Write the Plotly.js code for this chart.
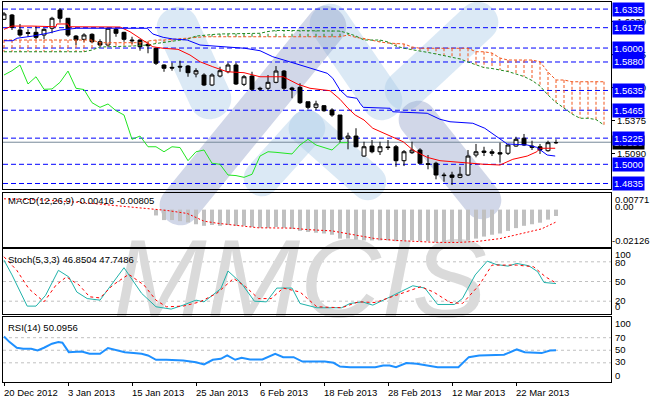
<!DOCTYPE html>
<html>
<head>
<meta charset="utf-8">
<script src="https://cdn.plot.ly/plotly-3.0.1.min.js"></script>
<style>
html,body{margin:0;padding:0;background:#ffffff;}
#chart{width:650px;height:400px;}
</style>
</head>
<body>
<div id="chart"></div>
<script>
// ---------------- data ----------------
const dateLabels = ['20 Dec 2012','3 Jan 2013','15 Jan 2013','25 Jan 2013','6 Feb 2013','18 Feb 2013','28 Feb 2013','12 Mar 2013','22 Mar 2013'];
const dateBars = [0, 8, 16, 24, 32, 40, 48, 56, 64];

const openP = [1.6247,1.6284,1.6155,1.6132,1.6135,1.6112,1.6170,1.6327,1.6256,1.6103,
1.6075,1.6118,1.6054,1.6026,1.6161,1.6135,1.6069,1.6069,1.6032,1.5998,
1.5854,1.5834,1.5843,1.5845,1.5777,1.5768,1.5682,1.5759,1.5796,1.5854,
1.5688,1.5759,1.5654,1.5654,1.5705,1.5802,1.5656,1.5662,1.5538,1.5490,
1.5504,1.5467,1.5424,1.5224,1.5243,1.5071,1.5157,1.5108,1.5149,1.5151,
1.5031,1.5100,1.5123,1.5005,1.5009,1.4908,1.4908,1.4888,1.4908,1.5080,
1.5114,1.5108,1.5100,1.5095,1.5157,1.5224,1.5157,1.5151,1.5117,1.5187];
const highP = [1.6310,1.6293,1.6207,1.6161,1.6189,1.6170,1.6269,1.6342,1.6256,1.6112,
1.6127,1.6127,1.6075,1.6170,1.6170,1.6140,1.6097,1.6075,1.6054,1.5998,
1.5860,1.5874,1.5891,1.5854,1.5826,1.5783,1.5783,1.5839,1.5874,1.5874,
1.5768,1.5796,1.5667,1.5768,1.5845,1.5811,1.5667,1.5697,1.5538,1.5547,
1.5510,1.5482,1.5424,1.5272,1.5310,1.5194,1.5209,1.5194,1.5209,1.5166,
1.5123,1.5194,1.5138,1.5080,1.5022,1.4928,1.4936,1.4979,1.5123,1.5175,
1.5151,1.5129,1.5186,1.5175,1.5237,1.5261,1.5203,1.5175,1.5203,1.5215];
const lowP = [1.6241,1.6155,1.6097,1.6097,1.6075,1.6075,1.6127,1.6218,1.6097,1.6026,
1.6054,1.6041,1.6011,1.6011,1.6097,1.6054,1.6035,1.5977,1.5955,1.5854,
1.5796,1.5805,1.5796,1.5753,1.5748,1.5673,1.5673,1.5748,1.5783,1.5682,
1.5673,1.5633,1.5633,1.5639,1.5697,1.5639,1.5568,1.5519,1.5473,1.5467,
1.5452,1.5409,1.5186,1.5129,1.5146,1.5065,1.5095,1.5080,1.5123,1.4979,
1.4985,1.5089,1.5003,1.4957,1.4871,1.4850,1.4822,1.4880,1.4899,1.5060,
1.5071,1.5071,1.5014,1.5080,1.5151,1.5157,1.5123,1.5089,1.5108,1.5175];
const closeP = [1.6293,1.6178,1.6112,1.6127,1.6092,1.6161,1.6256,1.6256,1.6112,1.6069,
1.6112,1.6054,1.6026,1.6170,1.6127,1.6075,1.6063,1.6011,1.6020,1.5869,
1.5826,1.5828,1.5837,1.5788,1.5805,1.5682,1.5768,1.5805,1.5854,1.5691,
1.5753,1.5645,1.5648,1.5705,1.5802,1.5654,1.5643,1.5530,1.5490,1.5519,
1.5461,1.5424,1.5215,1.5243,1.5151,1.5151,1.5108,1.5151,1.5144,1.5031,
1.5108,1.5123,1.5009,1.5000,1.4908,1.4903,1.4888,1.4914,1.5071,1.5108,
1.5103,1.5095,1.5089,1.5166,1.5215,1.5166,1.5146,1.5123,1.5186,1.5186];

const tenkanX = [0,1,3.5,6.5,6.6,8,8.1,12,14.5,15.75,17,17.9,18.6,19.9,21.75,23.25,24.5,26.1,27.9,30,32,34.9,36.75,38.25,40.75,42,43,43.9,45,46.1,48.6,49.9,51.1,52.9,54.5,57,60,62,63.6,65.4,66.6,67,68.9];
const tenkanY = [1.6161,1.6189,1.6189,1.6183,1.6207,1.6207,1.6183,1.6178,1.6181,1.6140,1.6084,1.6041,1.6011,1.5998,1.5989,1.5940,1.5882,1.5839,1.5796,1.5788,1.5753,1.5753,1.5688,1.5654,1.5633,1.5559,1.5482,1.5424,1.5381,1.5310,1.5237,1.5194,1.5123,1.5060,1.5031,1.5014,1.5000,1.4994,1.5043,1.5071,1.5108,1.5138,1.5138];

const kijunX = [0,1.1,1.6,3.6,5.75,7,9.1,17.9,18.6,19.9,21.1,22.9,24.5,27,30.1,32,33.6,35.4,37,39.1,40.4,41.1,42,42.9,44.1,44.5,44.9,48.25,48.6,52.9,54.5,55.75,58.6,60.1,60.75,62,62.9,65.4,66.6,67.9,68.9];
const kijunY = [1.6063,1.6063,1.6084,1.6103,1.6132,1.6155,1.6170,1.6170,1.6121,1.6092,1.6078,1.6069,1.6026,1.6011,1.5998,1.5977,1.5925,1.5888,1.5854,1.5811,1.5783,1.5740,1.5639,1.5581,1.5568,1.5525,1.5490,1.5482,1.5452,1.5439,1.5387,1.5366,1.5353,1.5310,1.5280,1.5224,1.5175,1.5166,1.5146,1.5080,1.5071];

const spanA = [1.6069,1.6069,1.6069,1.6069,1.6069,1.6069,1.6069,1.6069,1.6069,1.6069,1.6069,1.6069,
1.6046,1.6046,1.6046,1.6046,1.6046,1.6046,1.6060,1.6069,1.6069,1.6073,1.6078,1.6086,1.6091,
1.6097,1.6097,1.6097,1.6097,1.6097,1.6097,1.6097,1.6097,1.6097,1.6097,1.6097,1.6097,1.6097,1.6097,1.6097,1.6097,1.6097,1.6097,
1.6112,1.6091,1.6082,1.6065,1.6052,1.6043,1.6041,1.6035,1.6009,
1.5998,1.5998,1.5998,1.5998,1.5998,1.5998,1.5998,
1.5968,1.5968,1.5957,1.5914,1.5897,1.5897,1.5897,1.5897,1.5882,1.5794,1.5725,1.5725,
1.5710,1.5710,1.5710,1.5710,1.5710];
const spanB = [1.5968,1.5968,1.5968,1.5968,1.5968,1.5968,1.5968,1.5968,1.5968,1.5968,1.5968,
1.5983,1.6009,1.6011,1.6011,1.6011,
1.6017,1.6022,1.6026,1.6039,1.6048,1.6056,1.6065,1.6078,1.6103,1.6112,1.6116,1.6121,1.6121,1.6125,
1.6127,1.6127,1.6127,1.6142,1.6151,1.6151,1.6151,1.6151,1.6151,1.6151,1.6151,1.6151,
1.6146,1.6127,1.6103,1.6069,1.6069,1.6069,1.6052,1.6017,1.5998,1.5987,1.5979,1.5962,1.5949,1.5936,1.5923,1.5906,1.5880,1.5854,
1.5832,1.5824,1.5811,1.5798,1.5777,1.5755,1.5721,1.5673,1.5596,1.5532,1.5484,1.5433,1.5396,1.5396,1.5385,1.5338];

const levelPrices = [1.6335,1.6175,1.6000,1.5880,1.5635,1.5465,1.5225,1.5000,1.4835];
const priceTicks = [1.6230,1.5945,1.5660,1.5375,1.5090];
const lastPrice = 1.5190;

const macdMain = [0,0,0,0,0,0,0,0,0,0,0,0,0,0,0,0,0,0,0,
-0.0038,-0.0068,-0.0068,-0.0075,-0.0083,-0.0095,-0.0105,-0.0100,-0.0105,-0.0100,-0.0105,
-0.0105,-0.0113,-0.0118,-0.0118,-0.0113,-0.0118,-0.0125,-0.0138,-0.0145,-0.0150,
-0.0155,-0.0163,-0.0188,-0.0188,-0.0195,-0.0200,-0.0200,-0.0200,-0.0200,-0.0205,
-0.0200,-0.0200,-0.0205,-0.0205,-0.02126,-0.0212,-0.0212,-0.0210,-0.0200,-0.0188,
-0.0175,-0.0163,-0.0155,-0.0138,-0.0120,-0.0105,-0.0095,-0.0085,-0.0065,-0.00416];
const macdSigX = [0,5,10,15,17.7,20.3,22.9,25,26.6,28.6,31.8,36,38,41,43.8,46.4,49,51.6,54.2,56.8,59.4,62,64.6,67.2,69];
const macdSigY = [0.0070,0.0062,0.0045,0.0020,0.0005,-0.0005,-0.0025,-0.0075,-0.0088,-0.0100,-0.0118,-0.0120,-0.0130,-0.0138,-0.0163,-0.0188,-0.0200,-0.0205,-0.0213,-0.0213,-0.0205,-0.0188,-0.0155,-0.0125,-0.00805];
const macdLabels = ['0.00771','0.00','-0.02126'];

const stochKX = [0,1,2.9,4,5.2,6.8,8.1,9.1,10.4,12,15,17.2,19,20.9,22.4,24,25,27.1,28,29.7,31.3,32.8,34.1,36,37,39.1,42.2,43.25,44.8,46.1,48,51.1,52.6,54.2,56.3,57.3,58.9,60.4,61.5,63,64.1,65.6,66.7,67.5,69];
const stochKY = [82.5,60,12.5,12.5,29,67,57,34,24,21.6,71,32,11.5,8,14,21.6,19,39,66,47,20,19,40,40,16.5,10,10,16.5,19,14,25,43.5,40,15,15,24,60,81,76,73.4,77.5,74,65,48.5,46.85];
const stochDX = [0,1.6,3.1,5,6.5,7.8,9.4,10.7,12,13.6,15.6,17.5,19,20.3,22.4,24.5,26.6,28.7,30.2,31.8,33.4,34.9,37,39.1,42.2,44.3,46.4,49,52.1,53.7,55.75,57.3,59.4,61,64.1,66.2,67.7,69];
const stochDY = [87.6,67,39,19,44.5,57,44.5,26.7,25,44.5,61,44.5,21.6,11.5,12.5,19,32,54.6,42,24,24,40,34,11.5,10,19,18,29,42,34,18,16.5,44.5,75,75,72.4,57,47.75];
const stochLevels = [80,50,20];
const stochLabels = ['100','80','50','20','0'];

const rsiX = [0,0.7,1.6,2.4,3.4,4.2,5,6,6.8,7.3,8.1,8.9,9.7,10.7,12,13,13.8,15.1,16.2,17.2,18,19,20.3,22.4,24,25,26.1,27.1,27.9,28.9,29.7,30.75,32.3,33.9,34.9,36.2,37.3,40.1,41.2,42,43.25,46.4,47.4,48.2,49,50.3,51.6,53.1,54.2,56.8,58.1,59.4,62.5,64.1,65.1,67.2,68.25,69];
const rsiY = [72,63,54,52.4,52.4,49.7,54,60.4,63,62,47,47,48,44.4,44.4,53.5,51.3,47,45.5,44.4,41.7,34.8,34.8,33.7,31,27.3,34.8,36.4,41.7,34.8,38,35.3,35.3,44.4,39,39,32,32,30,24,23,23,25.7,25.7,23,29.5,28.4,25.7,23,23,39,41.7,42.8,51.3,47,45.5,49.7,50.1];
const rsiLevels = [70,50,30];
const rsiLabels = ['100','70','50','30','0'];

// ---------------- geometry / styles ----------------
const W = 650, H = 400;
const px = x => x / W;
const py = y => 1 - y / H;
const FONT = 'Liberation Sans, Arial, sans-serif';
const FS = 9.5;
const barRange = [-0.125, 75.875];
const dom = (top, bot) => [py(bot), py(top)];

const bars = openP.map((_, i) => i);
const cloudBars = spanA.map((_, i) => i);

// cloud hatch segments
const hoX = [], hoY = [], hgX = [], hgY = [];
cloudBars.forEach(i => {
  if (spanA[i] >= spanB[i]) { hoX.push(i, i, null); hoY.push(spanA[i], spanB[i], null); }
  else { hgX.push(i, i, null); hgY.push(spanA[i], spanB[i], null); }
});
const chikX = bars.slice(26).map(i => i - 26);
const chikY = closeP.slice(26);

const ORANGE = '#f2561d', DKGREEN = '#1f8a1f';

const traces = [
  {type:'scatter', mode:'text', x:[300], y:[289], text:['MMCIS'], xaxis:'x', yaxis:'y', hoverinfo:'skip',
   textfont:{size:112, color:'#dadada', family:'Liberation Sans Narrow, Liberation Sans, sans-serif', style:'italic'}},
  {type:'scatter', mode:'lines', x:hoX, y:hoY, xaxis:'x2', yaxis:'y2', line:{color:ORANGE, width:1, dash:'3px,2px'}, connectgaps:false, hoverinfo:'skip'},
  {type:'scatter', mode:'lines', x:hgX, y:hgY, xaxis:'x2', yaxis:'y2', line:{color:DKGREEN, width:1, dash:'3px,2px'}, connectgaps:false, hoverinfo:'skip'},
  {type:'scatter', mode:'lines', x:cloudBars, y:spanA, xaxis:'x2', yaxis:'y2', line:{color:ORANGE, width:1, dash:'3px,2px'}},
  {type:'scatter', mode:'lines', x:cloudBars, y:spanB, xaxis:'x2', yaxis:'y2', line:{color:DKGREEN, width:1, dash:'3px,2px'}},
  {type:'candlestick', x:bars, open:openP, high:highP, low:lowP, close:closeP, xaxis:'x2', yaxis:'y2',
   increasing:{line:{color:'#000000', width:1}, fillcolor:'#ffffff'},
   decreasing:{line:{color:'#000000', width:1}, fillcolor:'#000000'}, whiskerwidth:0},
  {type:'scatter', mode:'lines', x:chikX, y:chikY, xaxis:'x2', yaxis:'y2', line:{color:'#22e622', width:1}},
  {type:'scatter', mode:'lines', x:tenkanX, y:tenkanY, xaxis:'x2', yaxis:'y2', line:{color:'#ff0000', width:1}},
  {type:'scatter', mode:'lines', x:kijunX, y:kijunY, xaxis:'x2', yaxis:'y2', line:{color:'#0000ff', width:1}},

  {type:'bar', x:bars, y:macdMain, xaxis:'x3', yaxis:'y3', width:0.5, marker:{color:'#c0c0c0', line:{width:0}}},
  {type:'scatter', mode:'lines', x:macdSigX, y:macdSigY, xaxis:'x3', yaxis:'y3', line:{color:'#ff0000', width:1, dash:'2px,2px'}},

  {type:'scatter', mode:'lines', x:stochKX, y:stochKY, xaxis:'x4', yaxis:'y4', line:{color:'#20b2aa', width:1}},
  {type:'scatter', mode:'lines', x:stochDX, y:stochDY, xaxis:'x4', yaxis:'y4', line:{color:'#ff0000', width:1, dash:'3px,3px'}},

  {type:'scatter', mode:'lines', x:rsiX, y:rsiY, xaxis:'x5', yaxis:'y5', line:{color:'#1e90ff', width:2}}
];

function xa(anchor, withTicks) {
  return {domain:[px(3), px(611)], range:barRange, anchor:anchor, showline:true, mirror:true, linecolor:'#000', linewidth:1,
    showgrid:false, zeroline:false, showticklabels:false, ticks: withTicks ? 'outside' : '', tickvals: withTicks ? dateBars : [],
    ticklen:3, tickcolor:'#000', rangeslider:{visible:false}, fixedrange:true};
}
function ya(anchor, d, r) {
  return {domain:d, range:r, anchor:anchor, side:'right', showline:true, mirror:true, linecolor:'#000', linewidth:1,
    showgrid:false, zeroline:false, showticklabels:false, ticks:'', fixedrange:true};
}

const yMain = ya('x2', dom(2, 189), [1.47876, 1.6396]);
yMain.showticklabels = true; yMain.ticks = 'outside'; yMain.ticklen = 3; yMain.tickcolor = '#000';
yMain.tickvals = priceTicks; yMain.ticktext = priceTicks.map(v => v.toFixed(4));
yMain.tickfont = {family:FONT, size:FS, color:'#000'};

// logo watermark bands (pixel geometry)
const LIGHT = 'rgba(170,203,232,0.42)', GRAYB = 'rgba(140,155,198,0.40)';
const logoBands = [
  {p:[178,28,210,98], w:42, c:LIGHT},
  {p:[330,24,382,100], w:40, c:LIGHT},
  {p:[262,178,307,128], w:36, c:LIGHT},
  {p:[307,128,368,182], w:36, c:LIGHT},
  {p:[405,90,478,22], w:40, c:LIGHT},
  {p:[180,205,326,26], w:40, c:GRAYB},
  {p:[418,120,482,200], w:38, c:GRAYB}
];
function bandPath(x1, y1, x2, y2, w) {
  const dx = x2 - x1, dy = y2 - y1, L = Math.hypot(dx, dy);
  const ux = dx / L, uy = dy / L, nx = -uy * w / 2, ny = ux * w / 2, k = (w / 2) * 1.33;
  const P = (x, y) => `${px(x)},${py(y)}`;
  const a = [x1 + nx, y1 + ny], b = [x2 + nx, y2 + ny], c = [x2 - nx, y2 - ny], d = [x1 - nx, y1 - ny];
  return `M${P(a[0],a[1])} L${P(b[0],b[1])} C${P(b[0]+ux*k,b[1]+uy*k)} ${P(c[0]+ux*k,c[1]+uy*k)} ${P(c[0],c[1])} ` +
         `L${P(d[0],d[1])} C${P(d[0]-ux*k,d[1]-uy*k)} ${P(a[0]-ux*k,a[1]-uy*k)} ${P(a[0],a[1])} Z`;
}

const shapes = [];
logoBands.forEach(b => shapes.push({type:'path', xref:'paper', yref:'paper', path:bandPath(b.p[0],b.p[1],b.p[2],b.p[3],b.w),
  fillcolor:b.c, line:{width:0}, layer:'below'}));
levelPrices.forEach(v => shapes.push({type:'line', xref:'x2 domain', x0:0, x1:1, yref:'y2', y0:v, y1:v,
  line:{color:'#0000ff', width:1, dash:'5px,3px'}, layer:'below'}));
shapes.push({type:'line', xref:'x2 domain', x0:0, x1:1, yref:'y2', y0:lastPrice, y1:lastPrice, line:{color:'#778899', width:1}, layer:'below'});
stochLevels.forEach(v => shapes.push({type:'line', xref:'x4 domain', x0:0, x1:1, yref:'y4', y0:v, y1:v,
  line:{color:'#c0c0c0', width:1, dash:'3px,3px'}, layer:'below'}));
rsiLevels.forEach(v => shapes.push({type:'line', xref:'x5 domain', x0:0, x1:1, yref:'y5', y0:v, y1:v,
  line:{color:'#c0c0c0', width:1, dash:'3px,3px'}, layer:'below'}));

const annotations = [];
const lab = (text, yPix, xPix) => ({xref:'paper', x:px(xPix || 614), xanchor:'left', yref:'paper', y:py(yPix), yanchor:'middle',
  text:text, showarrow:false, font:{family:FONT, size:FS, color:'#000'}, borderpad:0});
// current price label (under the blue boxes)
annotations.push({xref:'paper', x:px(612), xanchor:'left', yref:'y2', y:lastPrice, yanchor:'middle', text:lastPrice.toFixed(4),
  showarrow:false, bgcolor:'#000000', font:{family:FONT, size:FS, color:'#ffffff'}, borderpad:1});
levelPrices.forEach(v => annotations.push({xref:'paper', x:px(612), xanchor:'left', yref:'y2', y:v, yanchor:'middle',
  text:v.toFixed(4), showarrow:false, bgcolor:'#0000ff', font:{family:FONT, size:FS, color:'#ffffff'}, borderpad:1}));
// sub-window scale labels
annotations.push(lab(macdLabels[0], 199.5));
annotations.push(lab(macdLabels[1], 206));
annotations.push(lab(macdLabels[2], 240, 610.5));
[255, 262, 281, 300, 306.5].forEach((y, i) => annotations.push(lab(stochLabels[i], y)));
[323.3, 337.3, 349.3, 361.7, 375.7].forEach((y, i) => annotations.push(lab(rsiLabels[i], y)));
// indicator titles
const title = (text, yPix) => ({xref:'paper', x:px(6), xanchor:'left', yref:'paper', y:py(yPix), yanchor:'middle', text:text,
  showarrow:false, font:{family:FONT, size:FS, color:'#000'}});
annotations.push(title('MACD(12,26,9) -0.00416 -0.00805', 201));
annotations.push(title('Stoch(5,3,3) 46.8504 47.7486', 259));
annotations.push(title('RSI(14) 50.0956', 327));
// date labels
dateBars.forEach((b, i) => annotations.push({xref:'x5', x:b, xanchor:'left', xshift:-2, yref:'paper', y:py(392), yanchor:'middle',
  text:dateLabels[i], showarrow:false, font:{family:FONT, size:FS, color:'#000'}}));

const layout = {
  width:W, height:H, margin:{l:0, r:0, t:0, b:0, pad:0},
  paper_bgcolor:'#ffffff', plot_bgcolor:'rgba(0,0,0,0)', showlegend:false,
  font:{family:FONT, size:FS, color:'#000'}, boxgap:0.3, hovermode:false,
  xaxis:{domain:[0,1], range:[0,W], visible:false, fixedrange:true},
  yaxis:{domain:[0,1], range:[H,0], visible:false, fixedrange:true},
  xaxis2:xa('y2', false), yaxis2:yMain,
  xaxis3:xa('y3', false), yaxis3:ya('x3', dom(193, 247), [-0.02425, 0.01077]),
  xaxis4:xa('y4', false), yaxis4:ya('x4', dom(249, 314), [0.5, 99.5]),
  xaxis5:xa('y5', true), yaxis5:ya('x5', dom(317, 382), [-0.6, 103]),
  shapes:shapes, annotations:annotations
};

Plotly.newPlot('chart', traces, layout, {staticPlot:true, displayModeBar:false});
</script>
</body>
</html>
